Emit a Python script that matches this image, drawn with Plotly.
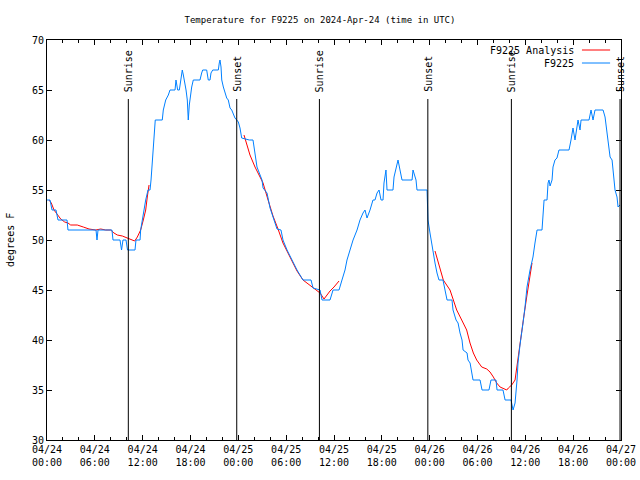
import pandas as pd
import plotly.graph_objects as go

START = pd.Timestamp("2024-04-24 00:00")

# Observations (hours since 2024-04-24 00:00 UTC, degrees F)
obs_hours = [0.00, 0.38, 0.63, 1.13, 1.38, 2.51, 2.63, 6.15, 6.27, 6.40, 8.15, 8.28, 9.16, 9.35, 9.53,
             9.91, 10.10, 11.04, 11.16, 11.67, 11.75, 11.95, 12.17, 12.38, 12.67, 12.92, 13.05, 13.13,
             13.26, 13.33, 13.46, 13.58, 14.46, 14.59, 14.89, 15.22, 15.43, 16.06, 16.18, 16.27, 16.39,
             16.60, 16.77, 16.97, 17.10, 17.22, 17.44, 17.60, 17.72, 17.85, 18.03, 18.15, 18.35, 19.19,
             19.40, 19.53, 20.03, 20.23, 20.45, 20.57, 20.79, 21.49, 21.61, 21.70, 21.83, 21.92, 22.12,
             22.33, 22.54, 22.74, 22.96, 23.17, 23.37, 23.58, 23.80, 24.00, 24.21, 24.42, 25.38, 25.84,
             26.34, 26.97, 27.10, 27.60, 27.98, 28.35, 28.85, 29.35, 29.60, 30.11, 30.73, 31.36, 32.11,
             33.12, 33.37, 34.25, 34.50, 35.50, 35.88, 36.63, 37.00, 37.38, 37.63, 38.01, 38.39, 38.89,
             39.26, 39.64, 39.89, 40.14, 40.52, 40.89, 41.14, 41.40, 41.65, 41.90, 42.15, 42.27, 42.52,
             42.65, 43.40, 43.53, 43.78, 44.03, 44.28, 44.53, 45.79, 45.91, 46.29, 46.41, 47.67, 47.73,
             47.79, 48.04, 48.29, 48.67, 48.92, 49.17, 49.67, 49.93, 50.18, 50.80, 50.93, 51.31, 51.56,
             51.81, 52.06, 52.19, 52.69, 52.81, 53.07, 53.44, 54.32, 54.57, 55.44, 55.69, 56.32, 56.45,
             57.20, 57.46, 58.21, 58.46, 58.71, 58.96, 59.08, 59.33, 59.58, 59.71, 59.96, 60.21, 60.59,
             60.96, 61.21, 61.47, 62.09, 62.22, 62.35, 62.72, 62.85, 62.97, 63.10, 63.35, 63.47, 63.72,
             63.97, 64.22, 65.48, 65.73, 65.86, 65.98, 66.23, 66.48, 66.61, 66.86, 66.99, 67.99, 68.24,
             68.49, 68.74, 69.75, 70.00, 70.25, 70.37, 70.63, 70.88, 71.00, 71.25, 71.50, 71.63, 71.88]
obs_temp = [54, 54, 53, 53, 52, 52, 51, 51, 50, 51, 51, 50, 50, 49, 50,
            50, 49, 49, 50, 50, 51, 52, 53, 54, 55, 55, 56, 57,
            59, 60, 61, 62, 62, 63, 64, 64.5, 65, 65, 66, 65.6, 65,
            65, 66, 67, 66.5, 66, 65, 64, 62, 63.5, 64.7, 65.3, 66, 66,
            66.7, 67, 67, 66, 66, 66.7, 67, 67, 67.7, 68, 67.3, 66, 65.3,
            64.7, 64.2, 64, 63.2, 63, 62.5, 62.2, 62, 61.8, 61.2, 60.2, 60, 60,
            57.3, 56, 55.2, 54.7, 53.2, 52.3, 51.1, 51, 50, 49, 48, 47, 46,
            46, 45.2, 45, 44, 44, 45, 45, 46, 47, 48, 49, 50, 51,
            52, 52.7, 53, 52.2, 53, 54, 54, 54.7, 55, 54, 54, 55.7, 57,
            55, 55, 56.3, 57.3, 58, 57, 56, 56, 57, 56, 55, 55, 53.5,
            52, 50.7, 49.3, 47.7, 46.7, 46, 46, 45, 44, 44, 43, 42, 41.7,
            40.7, 40, 39, 38.7, 38, 37.7, 36, 36, 35, 35, 36, 36, 35,
            35, 34, 34, 33, 33.7, 36, 37.7, 39.5, 40.7, 41.7, 43.3, 45.3, 47,
            48.3, 49.7, 51, 51, 52.7, 54, 54, 55.7, 56, 55.4, 56, 57.3, 58,
            58.2, 59, 59, 60, 60.7, 61.2, 60, 61.7, 62, 61, 62, 62, 63,
            62, 63, 63, 62.3, 60.7, 59.7, 58.3, 58, 56.7, 55, 54.3, 53.3, 53.5]

# Analysis (None marks gaps)
ana_hours = [0.25, 0.54, 0.88, 1.29, 1.72, 2.22, 2.63, 2.97, 3.80, 4.55, 5.27, 6.11, 6.74, 7.36, 7.99,
             8.40, 8.82, 9.45, 10.07, 10.57, 11.00, 11.33, 11.75, 12.08, 12.38, 12.58, 12.80, None,
             24.71, 25.46, 26.09, 27.10, 27.73, 28.35, 28.98, 29.60, 30.48, 31.36, 32.11, 32.99, 33.74,
             34.25, 34.75, 35.12, 35.50, 36.00, 36.63, None,
             48.67, 49.30, 49.71, 50.55, 50.97, 51.39, 52.02, 52.64, 53.06, 53.48, 53.90, 54.53, 55.16,
             55.57, 55.99, 56.41, 56.83, 57.67, 57.87, 58.29, 58.71, 58.92, 59.33, 59.75, 60.17, 60.59,
             60.84]
ana_temp = [54.0, 53.7, 53.0, 52.5, 52.1, 51.8, 51.7, 51.5, 51.5, 51.3, 51.1, 51.0, 51.1, 51.0, 51.0,
            50.7, 50.5, 50.4, 50.2, 50.1, 49.9, 50.3, 51.0, 52.0, 53.0, 54.3, 55.5, None,
            60.5, 58.5, 57.3, 55.7, 54.0, 52.4, 51.1, 49.7, 48.3, 46.9, 46.0, 45.5, 45.0,
            44.7, 44.1, 44.5, 44.9, 45.3, 45.9, None,
            48.9, 47.0, 46.0, 45.0, 44.0, 43.0, 42.0, 41.0, 39.7, 38.7, 38.0, 37.3, 37.1,
            36.8, 36.3, 35.7, 35.3, 35.0, 35.2, 35.5, 36.0, 37.3, 39.3, 42.0, 44.3, 46.5,
            47.7]

sun_hours = [10.20, 23.80, 34.17, 47.77, 58.25, 71.88]
sun_labels = ["Sunrise", "Sunset", "Sunrise", "Sunset", "Sunrise", "Sunset"]

series_names = ["F9225 Analysis", "F9225"]
series_colors = ["#ff0000", "#0080ff"]


def to_time(hours):
    return [START + pd.Timedelta(hours=h) if h is not None else None for h in hours]


FONT = "DejaVu Sans Mono"

fig = go.Figure()
fig.add_trace(go.Scatter(x=to_time(ana_hours), y=ana_temp, mode="lines", name=series_names[0],
                         line=dict(color=series_colors[0], width=1), connectgaps=False))
fig.add_trace(go.Scatter(x=to_time(obs_hours), y=obs_temp, mode="lines", name=series_names[1],
                         line=dict(color=series_colors[1], width=1)))

sun_times = to_time(sun_hours)
for t, lab in zip(sun_times, sun_labels):
    fig.add_shape(type="line", xref="x", yref="y", x0=t, x1=t, y0=30, y1=64.1,
                  line=dict(color="black", width=1))
    fig.add_annotation(x=t, y=64.6, xref="x", yref="y", text=lab, textangle=-90,
                       showarrow=False, xanchor="center", yanchor="bottom",
                       font=dict(family=FONT, size=10, color="black"))

# legend (gnuplot style: text then sample line)
for i, (nm, col) in enumerate(zip(series_names, series_colors)):
    yp = 0.975 - i * 0.0325
    fig.add_annotation(x=0.922, y=yp, xref="paper", yref="paper", text=nm, showarrow=False,
                       xanchor="right", yanchor="middle", font=dict(family=FONT, size=10, color="black"))
    fig.add_shape(type="line", xref="paper", yref="paper", x0=0.932, x1=0.981, y0=yp, y1=yp,
                  line=dict(color=col, width=1))

fig.add_annotation(x=-0.0645, y=0.5, xref="paper", yref="paper", text="degrees F", textangle=-90,
                   showarrow=False, xanchor="center", yanchor="middle",
                   font=dict(family=FONT, size=10, color="black"))

fig.update_layout(
    width=640, height=480,
    margin=dict(l=47, r=19, t=40, b=40, autoexpand=False),
    paper_bgcolor="white", plot_bgcolor="white",
    showlegend=False,
    hovermode=False,
    font=dict(family=FONT, size=10, color="black"),
    title=dict(text="Temperature for F9225 on 2024-Apr-24 (time in UTC)", x=0.5, xref="container",
               y=1 - 20 / 480, yref="container", yanchor="middle", xanchor="center",
               font=dict(family=FONT, size=9, color="black")),
    xaxis=dict(range=[START, START + pd.Timedelta(hours=72)], type="date",
               dtick=6 * 3600 * 1000, tick0=START, tickformat="%m/%d<br>%H:%M",
               showgrid=False, zeroline=False, showline=True, linecolor="black", linewidth=1,
               mirror="ticks", ticks="inside", ticklen=5, tickcolor="black",
               minor=dict(dtick=2 * 3600 * 1000, ticks="inside", ticklen=3, tickcolor="black",
                          showgrid=False)),
    yaxis=dict(range=[30, 70], dtick=5, showgrid=False, zeroline=False, showline=True,
               linecolor="black", linewidth=1, mirror="ticks", ticks="inside", ticklen=5,
               tickcolor="black"),
)

fig.write_html("out.html", config={"displayModeBar": False},
               post_script="document.body.style.margin='0';")
